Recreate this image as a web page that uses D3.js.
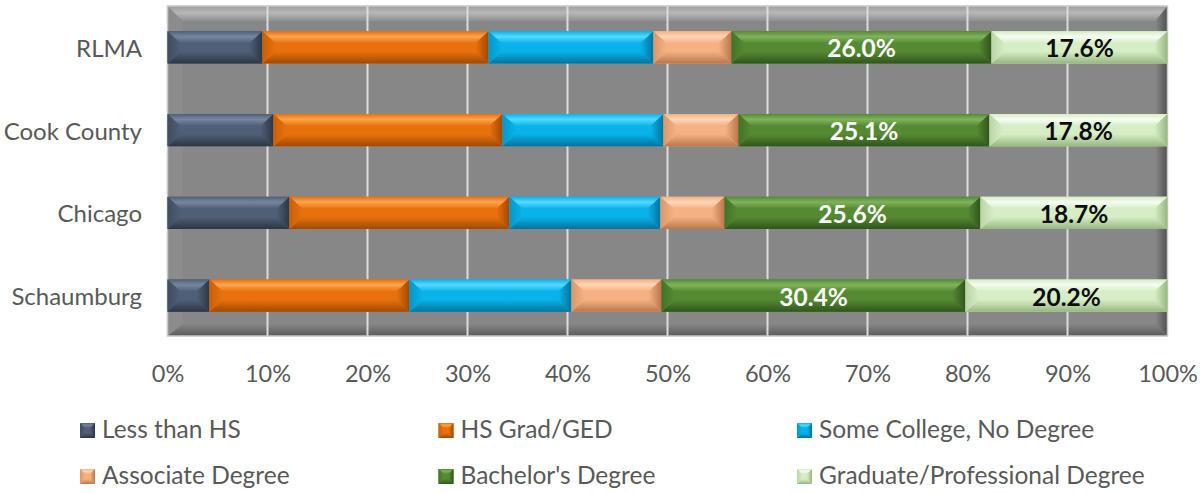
<!DOCTYPE html>
<html>
<head>
<meta charset="utf-8">
<script src="https://cdn.jsdelivr.net/npm/d3@7"></script>
<style>
  html, body { margin: 0; padding: 0; background: #ffffff; }
  svg { display: block; font-family: Lato, "Open Sans", sans-serif; }
</style>
</head>
<body>
<svg id="chart" width="1204" height="493"></svg>
<script>
// ---- data ----
const categories = ["RLMA", "Cook County", "Chicago", "Schaumburg"];
const seriesNames = ["Less than HS", "HS Grad/GED", "Some College, No Degree",
                     "Associate Degree", "Bachelor's Degree", "Graduate/Professional Degree"];
const lessThanHS   = [9.5, 10.6, 12.2, 4.2];
const hsGrad       = [22.6, 22.9, 22.0, 20.0];
const someCollege  = [16.5, 16.1, 15.1, 16.2];
const associate    = [7.8, 7.5, 6.4, 9.0];
const bachelors    = [26.0, 25.1, 25.6, 30.4];
const graduate     = [17.6, 17.8, 18.7, 20.2];
const tickValues   = [0, 10, 20, 30, 40, 50, 60, 70, 80, 90, 100];
const labeledSeries = [4, 5];

const seriesValues = [lessThanHS, hsGrad, someCollege, associate, bachelors, graduate];

// palette: base, light, dark
const palette = [
  {base: "#4f5f76", light: "#7587a0", dark: "#2c3644"},
  {base: "#e8710d", light: "#fca54e", dark: "#a04904"},
  {base: "#0ab2ea", light: "#55d9ff", dark: "#04739b"},
  {base: "#f4b183", light: "#fed6b6", dark: "#bb774b"},
  {base: "#558a33", light: "#80b35d", dark: "#30551a"},
  {base: "#d6edc5", light: "#f6fdf0", dark: "#97b781"}
];
const labelColors = {4: "#ffffff", 5: "#0d0d0d"};

const svg = d3.select("#chart");
const defs = svg.append("defs");

const plot = {left: 167.5, right: 1167.5, top: 6, bottom: 336};

const x = d3.scaleLinear().domain([0, 100]).range([plot.left, plot.right]);
const y = d3.scaleBand().domain(categories).range([6, 337]).paddingInner(0.61).paddingOuter(0.305);

// gradients per series
palette.forEach((p, i) => {
  const top = defs.append("linearGradient").attr("id", "top" + i).attr("x1", 0).attr("y1", 0).attr("x2", 0).attr("y2", 1);
  top.append("stop").attr("offset", "0%").attr("stop-color", p.base);
  top.append("stop").attr("offset", "45%").attr("stop-color", p.light);
  top.append("stop").attr("offset", "100%").attr("stop-color", p.base);
  const bot = defs.append("linearGradient").attr("id", "bot" + i).attr("x1", 0).attr("y1", 0).attr("x2", 0).attr("y2", 1);
  bot.append("stop").attr("offset", "0%").attr("stop-color", p.base);
  bot.append("stop").attr("offset", "100%").attr("stop-color", p.dark);
  const rgt = defs.append("linearGradient").attr("id", "rgt" + i).attr("x1", 0).attr("y1", 0).attr("x2", 1).attr("y2", 0);
  rgt.append("stop").attr("offset", "0%").attr("stop-color", p.base);
  rgt.append("stop").attr("offset", "100%").attr("stop-color", p.dark);
  const lft = defs.append("linearGradient").attr("id", "lft" + i).attr("x1", 0).attr("y1", 0).attr("x2", 1).attr("y2", 0);
  lft.append("stop").attr("offset", "0%").attr("stop-color", d3.interpolateRgb(p.base, p.dark)(0.45));
  lft.append("stop").attr("offset", "100%").attr("stop-color", p.base);
});

function bevel(g, bx, by, w, h, i, bMax, tMax) {
  const b = Math.min(bMax, w / 2);
  const t = Math.min(tMax, h / 2 - 1);
  const pts = a => a.map(p => p.join(",")).join(" ");
  g.append("rect").attr("x", bx).attr("y", by).attr("width", w).attr("height", h).attr("fill", palette[i].base);
  g.append("polygon").attr("points", pts([[bx, by], [bx + w, by], [bx + w - b, by + t], [bx + b, by + t]])).attr("fill", `url(#top${i})`);
  g.append("polygon").attr("points", pts([[bx, by + h], [bx + w, by + h], [bx + w - b, by + h - t], [bx + b, by + h - t]])).attr("fill", `url(#bot${i})`);
  g.append("polygon").attr("points", pts([[bx, by], [bx + b, by + t], [bx + b, by + h - t], [bx, by + h]])).attr("fill", `url(#lft${i})`);
  g.append("polygon").attr("points", pts([[bx + w, by], [bx + w - b, by + t], [bx + w - b, by + h - t], [bx + w, by + h]])).attr("fill", `url(#rgt${i})`);
}

// ---- plot area with bevel ----
const pg = svg.append("g");
const pw = plot.right - plot.left, ph = plot.bottom - plot.top;
pg.append("rect").attr("x", plot.left).attr("y", plot.top).attr("width", pw).attr("height", ph).attr("fill", "#878787");
const ptg = defs.append("linearGradient").attr("id", "ptop").attr("x1", 0).attr("y1", 0).attr("x2", 0).attr("y2", 1);
ptg.append("stop").attr("offset", "0%").attr("stop-color", "#9c9c9c");
ptg.append("stop").attr("offset", "45%").attr("stop-color", "#b8b8b8");
ptg.append("stop").attr("offset", "100%").attr("stop-color", "#8e8e8e");
const prg = defs.append("linearGradient").attr("id", "prgt").attr("x1", 0).attr("y1", 0).attr("x2", 1).attr("y2", 0);
prg.append("stop").attr("offset", "0%").attr("stop-color", "#878787");
prg.append("stop").attr("offset", "100%").attr("stop-color", "#505050");
const pbg = defs.append("linearGradient").attr("id", "pbot").attr("x1", 0).attr("y1", 0).attr("x2", 0).attr("y2", 1);
pbg.append("stop").attr("offset", "0%").attr("stop-color", "#878787");
pbg.append("stop").attr("offset", "100%").attr("stop-color", "#5a5a5a");
const pt = 15, pb = 12;
const L = plot.left, R = plot.right, T = plot.top, B = plot.bottom;
const P = a => a.map(p => p.join(",")).join(" ");
pg.append("polygon").attr("points", P([[L, T], [R, T], [R - pb, T + pt], [L + pt, T + pt]])).attr("fill", "url(#ptop)");
pg.append("polygon").attr("points", P([[R, T], [R, B], [R - pb, B - pb], [R - pb, T + pt]])).attr("fill", "url(#prgt)");
pg.append("polygon").attr("points", P([[L, B], [R, B], [R - pb, B - pb], [L + pt, B - pb]])).attr("fill", "url(#pbot)");
pg.append("polygon").attr("points", P([[L, T], [L + pt, T + pt], [L + pt, B - pb], [L, B]])).attr("fill", "#8c8c8c");

// gridlines
pg.selectAll("line.grid").data(tickValues.filter(v => v > 0 && v < 100)).enter()
  .append("line").attr("class", "grid")
  .attr("x1", d => x(d)).attr("x2", d => x(d))
  .attr("y1", plot.top).attr("y2", plot.bottom)
  .attr("stroke", "#dcdcdc").attr("stroke-width", 2);

pg.append("rect").attr("x", plot.left).attr("y", plot.top).attr("width", pw).attr("height", ph)
  .attr("fill", "none").attr("stroke", "#c8c8c8").attr("stroke-width", 1.5);

// ---- bars ----
const stack = categories.map((c, ci) => {
  let acc = 0;
  return seriesValues.map((vals, si) => {
    const s = {cat: c, si, v: vals[ci], x0: acc, x1: acc + vals[ci]};
    acc += vals[ci];
    return s;
  });
});

const barsG = svg.append("g");
stack.forEach(row => {
  row.forEach(s => {
    const g = barsG.append("g");
    const bx = x(s.x0), w = x(s.x1) - x(s.x0);
    bevel(g, bx, y(s.cat), w, y.bandwidth(), s.si, 13, 12);
  });
});

// labels
stack.forEach(row => {
  row.filter(s => labeledSeries.includes(s.si)).forEach(s => {
    barsG.append("text")
      .attr("x", x((s.x0 + s.x1) / 2))
      .attr("y", y(s.cat) + y.bandwidth() / 2 + 10)
      .attr("text-anchor", "middle")
      .attr("font-size", 24.5).attr("font-weight", "bold")
      .attr("fill", labelColors[s.si])
      .text(s.v.toFixed(1) + "%");
  });
});

// ---- axes ----
const xAxis = d3.axisBottom(x).tickValues(tickValues).tickFormat(d => d + "%").tickSize(0).tickPadding(0);
const xg = svg.append("g").attr("transform", `translate(0, 365)`).call(xAxis);
xg.select(".domain").remove();
xg.selectAll("text").attr("font-size", 23.5).attr("fill", "#595959").attr("font-family", "Lato, sans-serif")
  .attr("dy", null).attr("y", 17);

const yAxis = d3.axisLeft(y).tickSize(0).tickPadding(0);
const yg = svg.append("g").attr("transform", `translate(142, 0)`).call(yAxis);
yg.select(".domain").remove();
yg.selectAll("text").attr("font-size", 24).attr("fill", "#595959").attr("font-family", "Lato, sans-serif")
  .attr("dy", null).attr("y", 9.5);

// ---- legend ----
const legendCols = [80, 438.5, 797];
const legendRows = [438, 484];
const lg = svg.append("g");
seriesNames.forEach((name, i) => {
  const cx = legendCols[i % 3], by = legendRows[Math.floor(i / 3)];
  const g = lg.append("g");
  bevel(g, cx, by - 15, 15, 15, i, 5, 5);
  g.append("text").attr("x", cx + 22).attr("y", by)
    .attr("font-size", 24.5).attr("fill", "#595959").text(name);
});
</script>
</body>
</html>
